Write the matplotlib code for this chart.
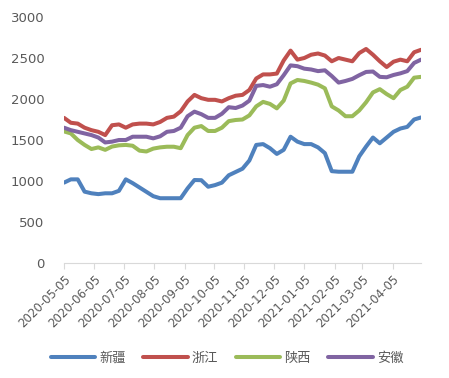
import numpy as np
import pandas as pd
import matplotlib
matplotlib.use("Agg")
import matplotlib.pyplot as plt
import matplotlib.dates as mdates

plt.rcParams['font.family'] = ['DejaVu Sans', 'Noto Sans CJK SC']

# weekly readings, 2020-05-05 .. 2021-05-04
dates = pd.date_range("2020-05-05", periods=53, freq="7D")

xinjiang = [980, 1020, 1020, 870, 850, 840, 850, 850, 880, 1020,
            974, 921, 868, 815, 790, 790, 790, 790, 910, 1012,
            1010, 930, 950, 980, 1070, 1110, 1150, 1250, 1440, 1450,
            1400, 1330, 1380, 1540, 1480, 1450, 1450, 1410, 1340, 1120,
            1113, 1113, 1113, 1300, 1420, 1530, 1460, 1530, 1600, 1640,
            1660, 1750, 1775]
zhejiang = [1770, 1710, 1700, 1650, 1620, 1600, 1560, 1680, 1690, 1650,
            1690, 1700, 1700, 1690, 1720, 1770, 1785, 1850, 1970, 2050,
            2010, 1990, 1990, 1970, 2010, 2040, 2050, 2110, 2250, 2300,
            2300, 2310, 2470, 2590, 2480, 2500, 2540, 2555, 2530, 2460,
            2500, 2480, 2460, 2560, 2610, 2540, 2460, 2390, 2455, 2480,
            2460, 2570, 2600]
shaanxi = [1605, 1580, 1500, 1440, 1390, 1410, 1380, 1420, 1435, 1440,
           1430, 1370, 1360, 1395, 1410, 1418, 1418, 1400, 1560, 1650,
           1670, 1610, 1610, 1650, 1730, 1744, 1750, 1800, 1910, 1965,
           1940, 1886, 1980, 2190, 2232, 2220, 2200, 2175, 2130, 1910,
           1860, 1790, 1790, 1860, 1960, 2080, 2120, 2060, 2010, 2110,
           2150, 2260, 2270]
anhui = [1650, 1620, 1600, 1580, 1560, 1530, 1470, 1480, 1500, 1500,
         1540, 1540, 1540, 1520, 1545, 1600, 1610, 1650, 1790, 1846,
         1815, 1770, 1770, 1820, 1900, 1890, 1920, 1980, 2160, 2170,
         2150, 2180, 2290, 2410, 2400, 2370, 2360, 2340, 2350, 2280,
         2200, 2220, 2245, 2290, 2330, 2335, 2270, 2265, 2293, 2313,
         2340, 2440, 2480]

names = ["新疆", "浙江", "陕西", "安徽"]
colors = ["#4F81BD", "#C0504D", "#9BBB59", "#8064A2"]
tick_dates = pd.to_datetime(["2020-05-05", "2020-06-05", "2020-07-05", "2020-08-05",
                             "2020-09-05", "2020-10-05", "2020-11-05", "2020-12-05",
                             "2021-01-05", "2021-02-05", "2021-03-05", "2021-04-05"])

fig = plt.figure(figsize=(4.49, 3.78), dpi=100)
ax = fig.add_axes([64/449, 1-263/378, 357/449, 246/378])

for vals, name, c in zip([xinjiang, zhejiang, shaanxi, anhui], names, colors):
    ax.plot(dates, vals, color=c, linewidth=2.9, label=name, solid_capstyle="round")

ax.set_ylim(0, 3000)
ax.set_yticks(range(0, 3001, 500))
ax.set_xlim(dates[0], dates[-1])
ax.set_xticks(tick_dates)
ax.xaxis.set_major_formatter(mdates.DateFormatter("%Y-%m-%d"))
plt.setp(ax.get_xticklabels(), rotation=45, ha="right", rotation_mode="anchor")

for s in ["top", "right", "left"]:
    ax.spines[s].set_visible(False)
ax.spines["bottom"].set_color("#D9D9D9")
ax.tick_params(axis="x", colors="#595959", labelsize=8.5, length=4, color="#D9D9D9", pad=3)
ax.tick_params(axis="y", colors="#595959", labelsize=9.5, length=0, pad=14)

fig.legend(loc="center", bbox_to_anchor=(227/449, 1-358/378), ncol=4, frameon=False,
           handlelength=3.4, handletextpad=0.3, columnspacing=1.3, fontsize=9.5,
           labelcolor="#595959")

fig.savefig("out.png", dpi=100)
plt.close()
